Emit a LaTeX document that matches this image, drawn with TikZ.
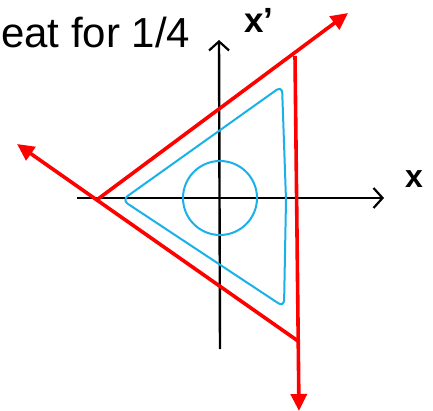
\documentclass[tikz,border=0pt]{standalone}
\usepackage{fontspec}
\setmainfont{Liberation Sans}
\usepackage{tikz}
\usetikzlibrary{arrows.meta}
\definecolor{ray}{HTML}{ff0000}
\definecolor{orbit}{HTML}{1ab0e8}

\begin{document}
\begin{tikzpicture}[x=1pt,y=-1pt,
  axis/.style={draw=black,line width=2.4pt,-{Straight Barb[length=9pt,width=20pt,line width=2.2pt]}},
  edge/.style={draw=ray,line width=3.6pt},
  rayarr/.style={edge,-{Triangle[length=17pt,width=16pt]}},
  curve/.style={draw=orbit,line width=2pt},
  lbl/.style={inner sep=0pt,font=\bfseries}]
  \useasboundingbox (0,0) rectangle (433,411);
  \node[inner sep=0pt,anchor=base west,font=\fontsize{42}{44}\selectfont] (title) at (1,48) {eat for 1/4};
  % axes
  \coordinate (xl) at (77,198);
  \coordinate (xr) at (384,198);
  \coordinate (yb) at (220,349);
  \coordinate (yt) at (219,40);
  \draw[axis] (xl) -- (xr);
  \draw[axis] (yb) -- (yt);
  \node[lbl,anchor=base,font=\bfseries\fontsize{35}{37}\selectfont] (xplbl) at (259,33) {x'};
  \node[lbl,anchor=base,font=\bfseries\fontsize{32}{34}\selectfont] (xlbl) at (414,188) {x};
  % orbit
  \coordinate (o) at (220,198);
  \draw[curve] (o) circle (37);
  \draw[curve,rounded corners=7pt] (122,200) -- (282,86) -- (286,200) -- (284,307) -- cycle;
  % separatrices
  \coordinate (a) at (98,199);
  \coordinate (b) at (295,56);
  \coordinate (c) at (298,341);
  \coordinate (tne) at (348,13);
  \coordinate (tnw) at (17,144);
  \coordinate (ts) at (299,411);
  \draw[rayarr] (a) -- (tne);
  \draw[rayarr] (c) -- (tnw);
  \draw[rayarr] (b) -- (ts);
\end{tikzpicture}
\end{document}
